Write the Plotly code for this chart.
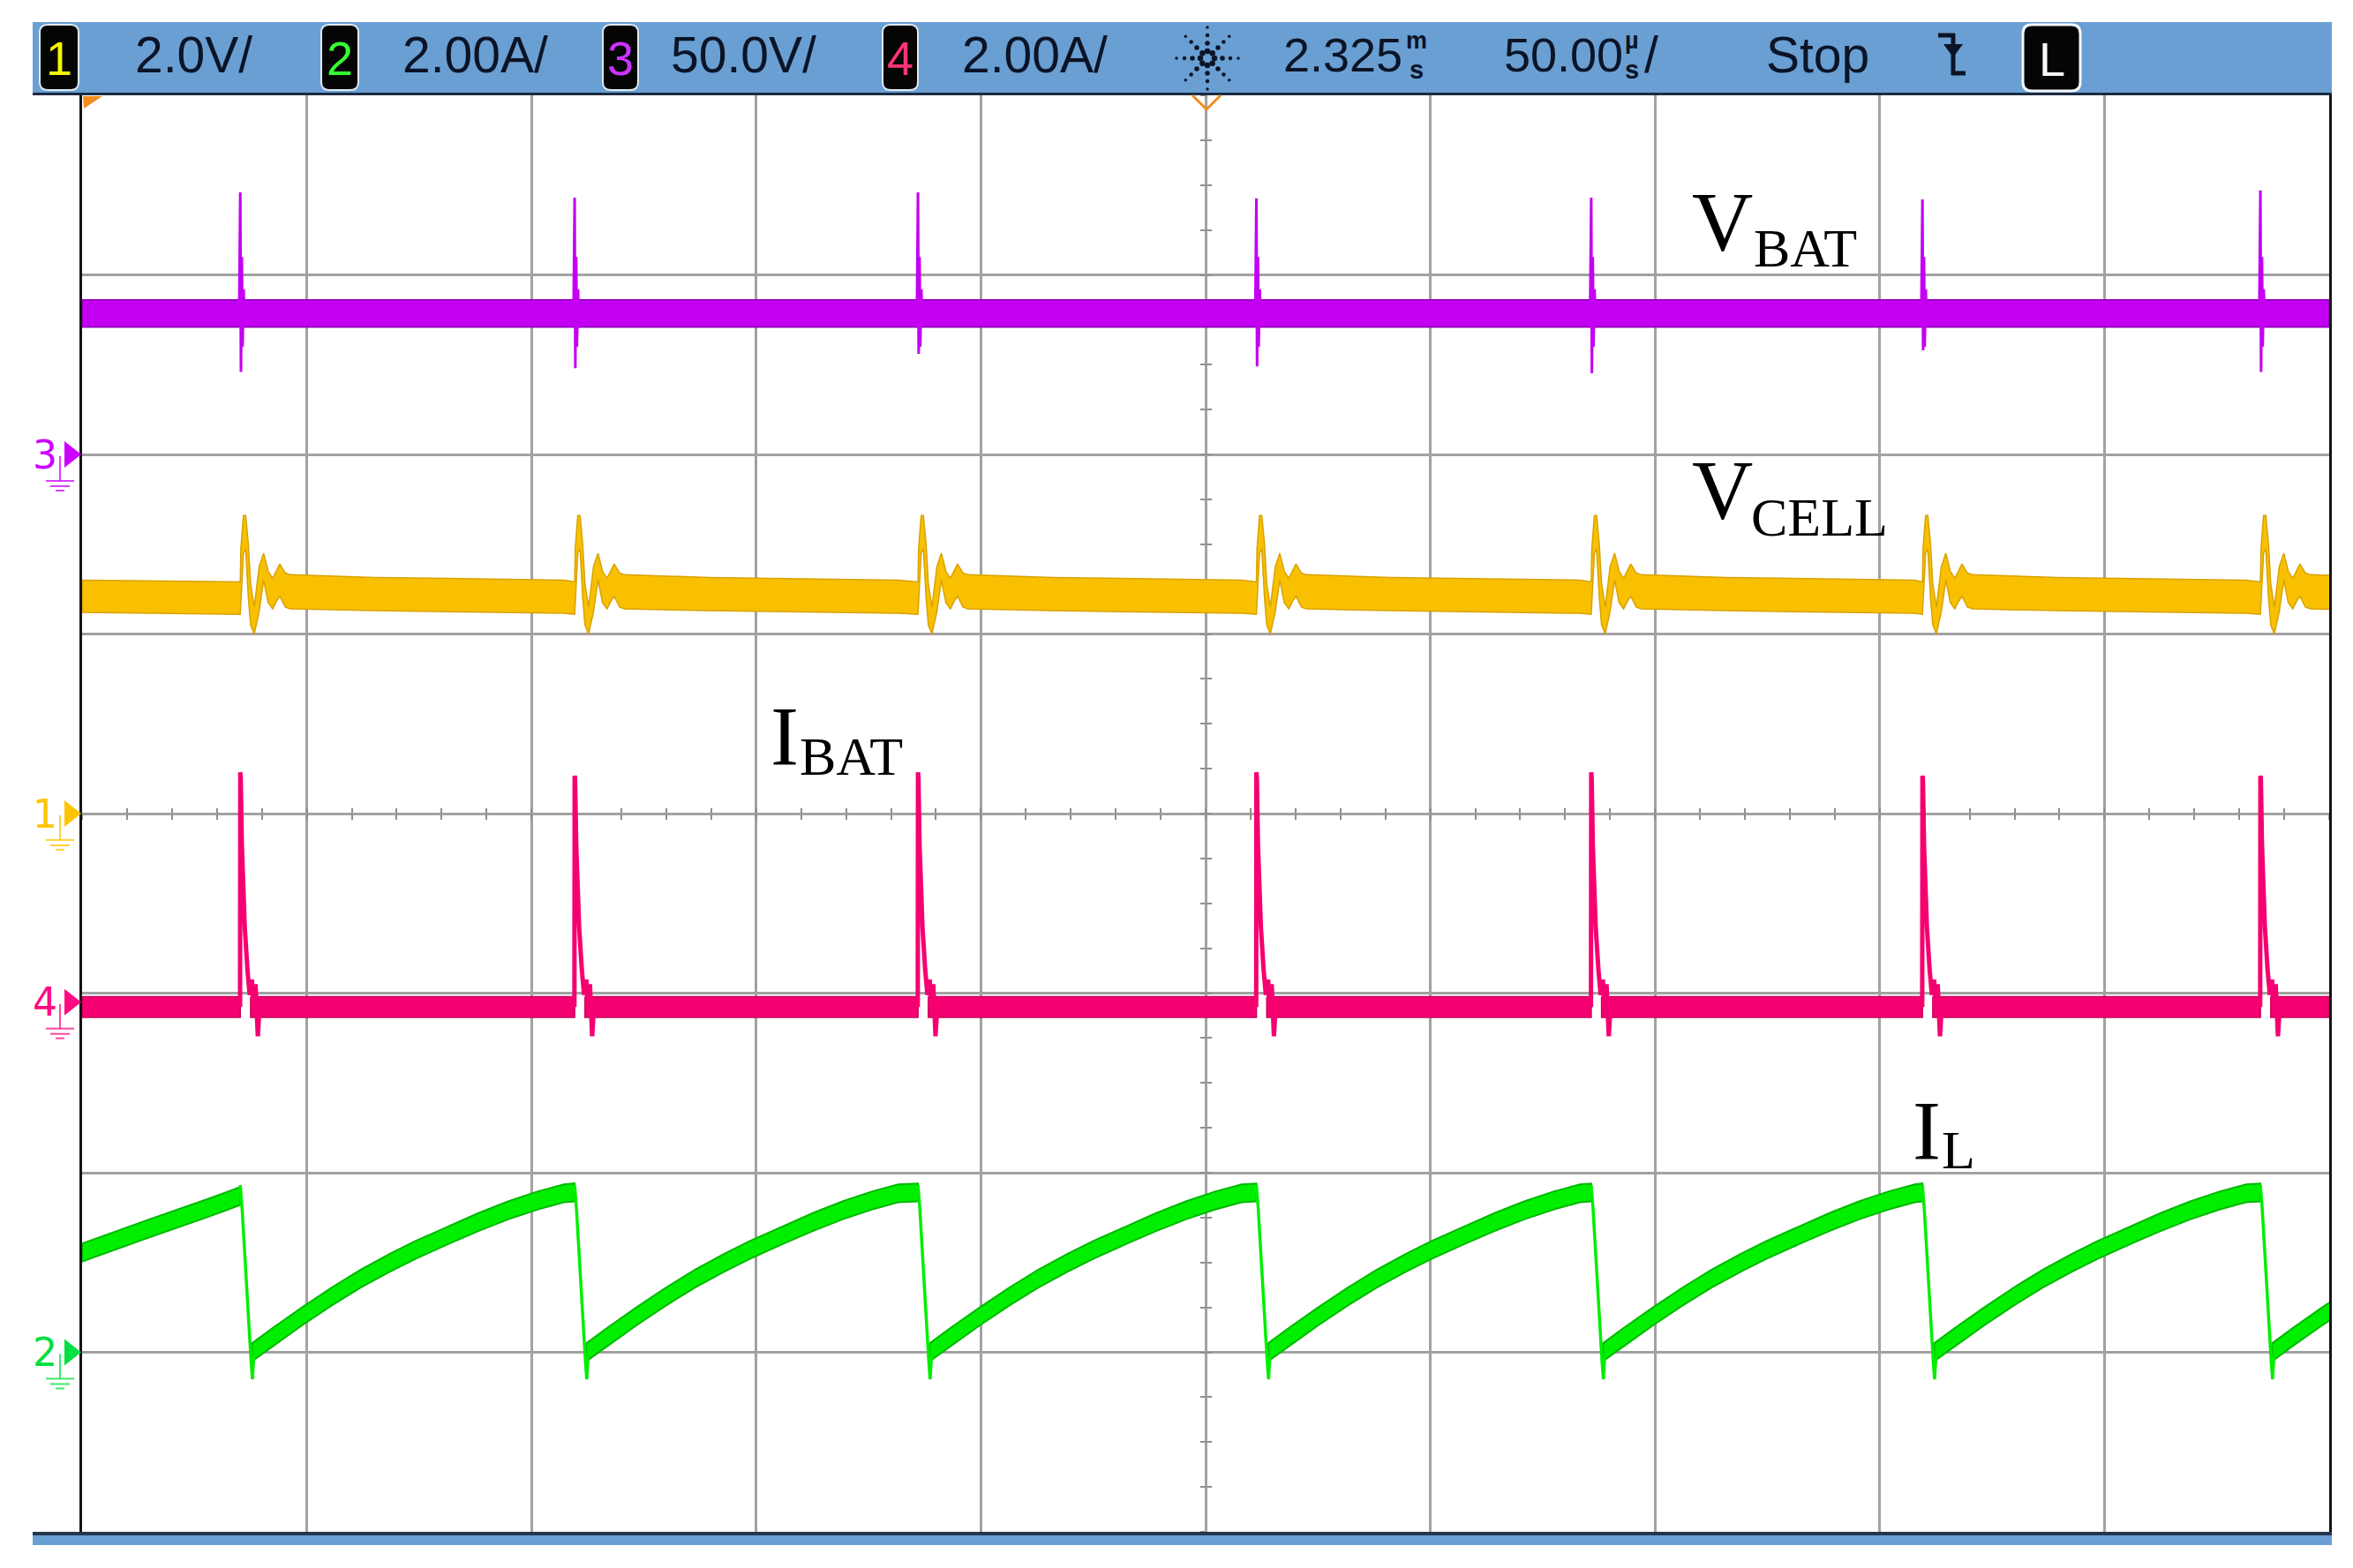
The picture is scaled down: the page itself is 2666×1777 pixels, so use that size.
import math
import plotly.graph_objects as go

# ============================ data ============================
t_window = [-250.0, 250.0]            # µs  (50 µs/div, 10 div, centre = 2.325 ms)
spike_t = [-214.8, -140.4, -64.0, 11.3, 85.8, 159.5, 234.7]   # switching instants (µs)

# channel settings: ch1 VCELL, ch2 IL, ch3 VBAT, ch4 IBAT
ch_scale = [2.0, 2.0, 50.0, 2.0]      # units per division
ch_ground = [0.0, -3.0, 2.0, -1.05]   # ground-marker level (divisions)
ch_unit_text = ["2.0V/", "2.00A/", "50.0V/", "2.00A/"]

# Ch3 : VBAT (V)
vbat_band = [35.5, 43.0]                                  # noise band (lo, hi)
vbat_top = [73.0, 71.5, 73.0, 71.3, 71.5, 71.0, 73.5]    # spike maxima
vbat_bot = [23.0, 24.0, 28.0, 24.5, 22.6, 29.0, 23.0]    # spike minima
vbat_ring_off = [0.35, 0.5, 0.75, 0.95]                   # µs after spike
vbat_ring_v = [55.0, 30.0, 46.0, 36.0]

# Ch1 : VCELL (V)
vcell_left = [2.24, 2.60]                                 # band at left edge (lo, hi)
vcell_off = [0.0, 0.13, 0.7, 1.2, 1.8, 2.3, 3.1, 4.2, 5.2, 6.2, 7.2, 8.0, 8.8, 10.0, 11.1, 30.0, 55.0, 72.0]
vcell_hi = [2.58, 2.95, 3.32, 3.32, 3.00, 2.56, 2.30, 2.75, 2.90, 2.70, 2.62, 2.70, 2.78, 2.68, 2.66, 2.63, 2.61, 2.60]
vcell_lo = [2.22, 2.30, 2.90, 2.95, 2.40, 2.10, 2.00, 2.25, 2.60, 2.35, 2.28, 2.36, 2.42, 2.30, 2.28, 2.26, 2.24, 2.23]

# Ch4 : IBAT (A)
ibat_band = [-0.17, 0.06]
ibat_peak = [2.56, 2.52, 2.56, 2.56, 2.56, 2.52, 2.52]
ibat_off = [0.1, 0.35, 0.65, 1.0, 1.6, 2.1, 2.6, 3.0, 3.4, 3.9, 4.3]
ibat_a = [2.50, 1.75, 1.30, 0.83, 0.36, 0.08, 0.25, -0.10, 0.20, -0.38, -0.05]
ibat_resume = 2.3                                         # µs after spike where band restarts

# Ch2 : IL (A)
il_left_t = [-250.0, -235.6, -222.4, -214.8]
il_left_a = [1.11, 1.37, 1.60, 1.74]
il_off = [2.6, 7.2, 13.75, 20.3, 26.8, 33.4, 39.0, 46.5, 53.0, 59.6, 66.1, 72.0]
il_a = [0.00, 0.17, 0.40, 0.62, 0.82, 1.00, 1.14, 1.31, 1.45, 1.58, 1.69, 1.77]
il_peak = 1.78
il_band = 0.20                                            # band thickness (A p-p)
il_drop_off = [0.0, 0.4, 2.4, 2.7, 3.0]
il_drop_a = [1.86, 1.60, -0.10, -0.30, -0.05]

# ================================ geometry / style =====================================
PAGE_W, PAGE_H, BODY = 2666, 1777, 8           # browser window and default body margin
W, H = PAGE_W - 2 * BODY, PAGE_H - 2 * BODY    # figure size
PL, PR, PT, PB = 93, 2639, 108, 1736           # plot box in page pixels
DIV_PX = (PB - PT) / 8.0
HDR_FONT = "Liberation Sans, Arial, sans-serif"
SERIF = "Liberation Serif, Times New Roman, serif"
BLUE = "#6A9FD3"
NAVY = "#0b1426"

col_fill = {"vcell": "#F8C000", "il": "#00EE00", "vbat": "#C400F2", "ibat": "#F50070"}
col_edge = {"vcell": "#D9A200", "il": "#00B800", "vbat": "#9A00C4", "ibat": "#C8005A"}
marker_col = ["#FFC400", "#00E040", "#CC00FF", "#FF0A80"]
hdr_digit_col = ["#F5F500", "#33FF33", "#CC33FF", "#FF3377"]


def px(x):
    return (x - PL) / (PR - PL)


def py(y):
    return (PB - y) / (PB - PT)


fig = go.Figure()

# ----------------------------------- VBAT ---------------------------------------------
lo, hi = vbat_band
fig.add_trace(go.Scatter(x=[t_window[0], t_window[1], t_window[1], t_window[0], t_window[0]],
                         y=[hi, hi, lo, lo, hi], mode="lines", fill="toself",
                         fillcolor=col_fill["vbat"], line=dict(color=col_edge["vbat"], width=2),
                         yaxis="y4", hoverinfo="skip"))
mid = (lo + hi) / 2
xs, ys = [], []
for t, top, bot in zip(spike_t, vbat_top, vbat_bot):
    xs += [t - 0.25, t, t + 0.15] + [t + o for o in vbat_ring_off] + [t + 1.3, None]
    ys += [mid, top, bot] + vbat_ring_v + [mid, None]
fig.add_trace(go.Scatter(x=xs, y=ys, mode="lines", line=dict(color=col_fill["vbat"], width=3),
                         yaxis="y4", hoverinfo="skip"))

# ----------------------------------- VCELL --------------------------------------------
up_t, up_v, lo_t, lo_v = [t_window[0]], [vcell_left[1]], [t_window[0]], [vcell_left[0]]
for i, t in enumerate(spike_t):
    nxt = spike_t[i + 1] if i + 1 < len(spike_t) else float("inf")
    for o, h_, l_ in zip(vcell_off, vcell_hi, vcell_lo):
        if t + o < nxt:
            up_t.append(t + o); up_v.append(h_)
            lo_t.append(t + o); lo_v.append(l_)
fig.add_trace(go.Scatter(x=up_t + lo_t[::-1] + [up_t[0]], y=up_v + lo_v[::-1] + [up_v[0]],
                         mode="lines", fill="toself", fillcolor=col_fill["vcell"],
                         line=dict(color=col_edge["vcell"], width=1.5), yaxis="y2", hoverinfo="skip"))

# ----------------------------------- IBAT ---------------------------------------------
lo, hi = ibat_band
segs = [(t_window[0], spike_t[0])]
for i, t in enumerate(spike_t):
    end = spike_t[i + 1] if i + 1 < len(spike_t) else t_window[1]
    segs.append((t + ibat_resume, end))
bx, by = [], []
for a, b in segs:
    bx += [a, b, b, a, a, None]
    by += [hi, hi, lo, lo, hi, None]
fig.add_trace(go.Scatter(x=bx, y=by, mode="lines", fill="toself", fillcolor=col_fill["ibat"],
                         line=dict(color=col_edge["ibat"], width=1.5), yaxis="y5", hoverinfo="skip"))
mid = (lo + hi) / 2
xs, ys = [], []
for t, pk in zip(spike_t, ibat_peak):
    xs += [t - 0.05, t] + [t + o for o in ibat_off] + [None]
    ys += [mid, pk] + ibat_a + [None]
fig.add_trace(go.Scatter(x=xs, y=ys, mode="lines", line=dict(color=col_fill["ibat"], width=5),
                         yaxis="y5", hoverinfo="skip"))

# ------------------------------------- IL ---------------------------------------------
segments = [(list(il_left_t), list(il_left_a))]
for i, t in enumerate(spike_t):
    nxt = spike_t[i + 1] if i + 1 < len(spike_t) else None
    st, sa = [], []
    for o, a in zip(il_off, il_a):
        if nxt is None or t + o < nxt:
            st.append(t + o); sa.append(a)
    if nxt is not None:
        st.append(nxt); sa.append(il_peak)
    segments.append((st, sa))
gx, gy = [], []
half = il_band / 2
for st, sa in segments:
    gx += st + st[::-1] + [st[0], None]
    gy += [a + half for a in sa] + [a - half for a in sa[::-1]] + [sa[0] + half, None]
fig.add_trace(go.Scatter(x=gx, y=gy, mode="lines", fill="toself", fillcolor=col_fill["il"],
                         line=dict(color=col_edge["il"], width=2),
                         yaxis="y3", hoverinfo="skip"))
xs, ys = [], []
for t in spike_t:
    xs += [t + o for o in il_drop_off] + [None]
    ys += il_drop_a + [None]
fig.add_trace(go.Scatter(x=xs, y=ys, mode="lines", line=dict(color=col_fill["il"], width=3.5),
                         yaxis="y3", hoverinfo="skip"))

# dummy traces so the centre tick axes are drawn
for xa, ya in [("x2", "y6"), ("x3", "y7")]:
    fig.add_trace(go.Scatter(x=[None], y=[None], xaxis=xa, yaxis=ya, mode="lines", hoverinfo="skip"))

# ================================= layout / chrome =====================================
shapes, ann = [], []


def rrect(x0, y0, x1, y1, r, fill, line_col, lw):
    rx, ry = r / (PR - PL), r / (PB - PT)
    X0, X1, Y0, Y1 = px(x0), px(x1), py(y1), py(y0)
    path = (f"M {X0+rx},{Y0} L {X1-rx},{Y0} Q {X1},{Y0} {X1},{Y0+ry} L {X1},{Y1-ry} "
            f"Q {X1},{Y1} {X1-rx},{Y1} L {X0+rx},{Y1} Q {X0},{Y1} {X0},{Y1-ry} "
            f"L {X0},{Y0+ry} Q {X0},{Y0} {X0+rx},{Y0} Z")
    return dict(type="path", xref="paper", yref="paper", path=path, fillcolor=fill,
                line=dict(color=line_col, width=lw))


def line(x0, y0, x1, y1, col, w):
    return dict(type="line", xref="paper", yref="paper", x0=px(x0), y0=py(y0), x1=px(x1), y1=py(y1),
                line=dict(color=col, width=w))


def text(s, x, y, size, col, fam, xanchor="left", yanchor="middle"):
    return dict(text=s, x=px(x), y=py(y), xref="paper", yref="paper", showarrow=False,
                xanchor=xanchor, yanchor=yanchor, font=dict(size=size, color=col, family=fam),
                borderpad=0)


# header bar and bottom strip
shapes.append(dict(type="rect", xref="paper", yref="paper", x0=px(37), x1=px(2642), y0=py(106), y1=py(25),
                   fillcolor=BLUE, line=dict(width=0), layer="below"))
shapes.append(line(37, 106.5, 2642, 106.5, "#1b2a40", 3))
shapes.append(dict(type="rect", xref="paper", yref="paper", x0=px(37), x1=px(2642), y0=py(1751), y1=py(1740),
                   fillcolor=BLUE, line=dict(width=0), layer="below"))
shapes.append(line(37, 1738, 2642, 1738, "#24364a", 4))

# channel boxes in header
box_x = [(45, 89), (364, 406), (683, 723), (1000, 1040)]
txt_x = [152, 455, 759, 1089]
for k in range(4):
    x0, x1 = box_x[k]
    shapes.append(rrect(x0, 28, x1, 102, 9, "#050505", "#dfe8f0", 2))
    ann.append(text(str(k + 1), (x0 + x1) / 2, 66, 54, hdr_digit_col[k], HDR_FONT, xanchor="center"))
    ann.append(text(ch_unit_text[k], txt_x[k], 62, 57, NAVY, HDR_FONT))

# Keysight spark icon
cx, cy = 1368, 66
for ang in range(0, 360, 45):
    for r, d in zip([8, 17, 26, 35], [6.5, 5.5, 4.5, 3.5]):
        x = cx + r * math.cos(math.radians(ang))
        y = cy + r * math.sin(math.radians(ang))
        shapes.append(dict(type="circle", xref="paper", yref="paper", x0=px(x - d / 2), x1=px(x + d / 2),
                           y0=py(y + d / 2), y1=py(y - d / 2), fillcolor=NAVY, line=dict(width=0)))

ann.append(text("2.325", 1590, 62, 54, NAVY, HDR_FONT, xanchor="right"))
ann.append(text("<b>m</b>", 1605, 46, 27, NAVY, HDR_FONT, xanchor="center"))
ann.append(text("<b>s</b>", 1605, 79, 29, NAVY, HDR_FONT, xanchor="center"))
ann.append(text("50.00", 1703, 62, 54, NAVY, HDR_FONT))
ann.append(text("<b>µ</b>", 1849, 46, 27, NAVY, HDR_FONT, xanchor="center"))
ann.append(text("<b>s</b>", 1849, 79, 29, NAVY, HDR_FONT, xanchor="center"))
ann.append(text("/", 1862, 62, 57, NAVY, HDR_FONT))
ann.append(text("Stop", 2000, 62, 57, NAVY, HDR_FONT))

# trigger (falling edge) icon
shapes.append(line(2196, 40, 2215, 40, NAVY, 5))
shapes.append(line(2213, 38, 2213, 85, NAVY, 5))
shapes.append(line(2211, 83, 2227, 83, NAVY, 5))
shapes.append(dict(type="path", xref="paper", yref="paper",
                   path=f"M {px(2202)},{py(50)} L {px(2224)},{py(50)} L {px(2213)},{py(65)} Z",
                   fillcolor=NAVY, line=dict(width=0)))

# "L" box
shapes.append(rrect(2292, 28, 2357, 103, 10, "#050505", "#f4f8fb", 3))
ann.append(text("L", 2325, 67, 54, "#f4f8fb", HDR_FONT, xanchor="center"))

# orange time-reference markers
shapes.append(dict(type="path", xref="paper", yref="paper",
                   path=f"M {px(94)},{py(109)} L {px(116)},{py(109)} L {px(95)},{py(123)} Z",
                   fillcolor="#F28C1E", line=dict(width=0)))
shapes.append(dict(type="path", xref="paper", yref="paper",
                   path=f"M {px(1351)},{py(108)} L {px(1367)},{py(124)} L {px(1383)},{py(108)}",
                   line=dict(color="#F28C1E", width=3)))

# channel ground markers on the left edge (positioned on the division axis)
for k in range(4):
    g = ch_ground[k]
    c = marker_col[k]
    d = 1.0 / DIV_PX
    shapes.append(dict(type="path", xref="paper", yref="y",
                       path=f"M {px(73)},{g + 15 * d} L {px(92)},{g} L {px(73)},{g - 15 * d} Z",
                       fillcolor=c, line=dict(width=0)))
    shapes.append(dict(type="line", xref="paper", yref="y", x0=px(68), x1=px(68),
                       y0=g - 2 * d, y1=g - 30 * d, line=dict(color=c, width=2), opacity=0.75))
    for (x0, x1, dy) in [(52, 84, 30), (57, 79, 36), (63, 73, 41)]:
        shapes.append(dict(type="line", xref="paper", yref="y", x0=px(x0), x1=px(x1),
                           y0=g - dy * d, y1=g - dy * d, line=dict(color=c, width=2), opacity=0.75))
    ann.append(dict(text=str(k + 1), x=px(51), y=g, xref="paper", yref="y", showarrow=False,
                    xanchor="center", yanchor="middle",
                    font=dict(size=44, color=c, family="DejaVu Sans, sans-serif")))

# trace labels
lab = [("V", 1916, 251.5, "BAT", 1986, 281),
       ("V", 1916, 556, "CELL", 1983, 586),
       ("I", 872, 834, "BAT", 905, 857),
       ("I", 2166, 1281.5, "L", 2199, 1302.5)]
for big, bx_, by_, small, sx, sy in lab:
    ann.append(text(big, bx_, by_, 96, "#000000", SERIF))
    ann.append(text(small, sx, sy, 62, "#000000", SERIF))

GRID = "#a2a2a2"
axis_common = dict(showticklabels=False, zeroline=False, fixedrange=True)
tick_x = dict(overlaying="x", anchor="free", position=0.5, range=t_window, dtick=10, tick0=0,
              ticklen=6, tickwidth=2, tickcolor="#8e8e8e", showgrid=False, showline=False,
              layer="below traces", **axis_common)
tick_y = dict(overlaying="y", anchor="free", position=0.5, range=[-4, 4], dtick=0.25, tick0=0,
              ticklen=6, tickwidth=2, tickcolor="#8e8e8e", showgrid=False, showline=False,
              layer="below traces", **axis_common)


def ch_range(k):
    g, s = ch_ground[k], ch_scale[k]
    return [(-4 - g) * s, (4 - g) * s]


fig.update_layout(
    width=W, height=H,
    margin=dict(l=PL - BODY, r=(BODY + W) - PR, t=PT - BODY, b=(BODY + H) - PB, pad=0),
    plot_bgcolor="white", paper_bgcolor="white",
    showlegend=False, hovermode=False,
    xaxis=dict(range=t_window, dtick=50, tick0=0, showgrid=True, gridcolor=GRID, gridwidth=2.5,
               ticks="", showline=True, linecolor="#141414", linewidth=3, mirror=True, **axis_common),
    yaxis=dict(range=[-4, 4], dtick=1, tick0=0, showgrid=True, gridcolor=GRID, gridwidth=2.5,
               ticks="", showline=True, linecolor="#141414", linewidth=3, mirror=True, **axis_common),
    yaxis2=dict(overlaying="y", range=ch_range(0), visible=False, fixedrange=True),
    yaxis3=dict(overlaying="y", range=ch_range(1), visible=False, fixedrange=True),
    yaxis4=dict(overlaying="y", range=ch_range(2), visible=False, fixedrange=True),
    yaxis5=dict(overlaying="y", range=ch_range(3), visible=False, fixedrange=True),
    xaxis2=dict(ticks="outside", **tick_x),
    xaxis3=dict(ticks="inside", **tick_x),
    yaxis6=dict(ticks="outside", **tick_y),
    yaxis7=dict(ticks="inside", **tick_y),
    shapes=shapes,
    annotations=ann,
)

fig.write_html("out.html")
